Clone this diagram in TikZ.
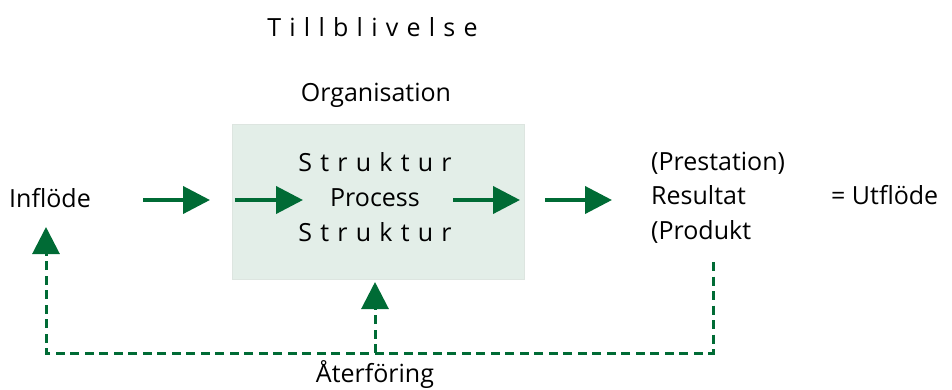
\documentclass[tikz,border=0pt]{standalone}
\usepackage{fontspec}
\setmainfont{Open Sans}
\usetikzlibrary{arrows.meta}
\definecolor{flowgreen}{HTML}{006B35}
\definecolor{boxfill}{HTML}{E3EEE8}
\definecolor{boxline}{HTML}{DDE5E0}
\newcommand{\spaced}[1]{\addfontfeature{LetterSpace=33}#1}
\tikzset{
  lbl/.style={inner sep=0pt, font=\fontsize{25}{30}\selectfont, text=black},
  flowarrow/.style={draw=flowgreen, line width=4pt,
    -{Triangle[length=27pt,width=27pt]}},
  feedback/.style={draw=flowgreen, line width=3pt, dash pattern=on 9pt off 5.5pt},
  feedarrow/.style={feedback, -{Triangle[length=27pt,width=27pt]}},
}
\begin{document}
\begin{tikzpicture}[x=1pt,y=-1pt]
\useasboundingbox (0,0) rectangle (952,389);

% process box
\node[fill=boxfill, draw=boxline, line width=1pt, minimum width=292pt,
  minimum height=155pt, inner sep=0pt] (box) at (378,201.5) {};

% titles
\node[lbl, anchor=base] (title) at (372.5,36) {\spaced{Tillblivelse}};
\node[lbl, anchor=base] (org) at (376,101) {Organisation};

% box contents
\node[lbl, anchor=base] (s1) at (375,171) {\spaced{Struktur}};
\node[lbl, anchor=base] (proc) at (375,206) {Process};
\node[lbl, anchor=base] (s2) at (375,241) {\spaced{Struktur}};

% input and output
\node[lbl, anchor=base west] (in) at (9,207) {Inflöde};
\node[lbl, anchor=base west] (prest) at (651,170) {(Prestation)};
\node[lbl, anchor=base west] (res) at (651,204.5) {Resultat};
\node[lbl, anchor=base west] (prod) at (651,239) {(Produkt};
\node[lbl, anchor=base west] (out) at (831,204) {= Utflöde};
\node[lbl, anchor=base] (fb) at (375,382) {Återföring};

% horizontal flow arrows
\coordinate (a1s) at (143,200);  \coordinate (a1e) at (210,200);
\coordinate (a2s) at (235,200);  \coordinate (a2e) at (303,200);
\coordinate (a3s) at (453,200);  \coordinate (a3e) at (520,200);
\coordinate (a4s) at (545,200);  \coordinate (a4e) at (612,200);
\draw[flowarrow] (a1s) -- (a1e);
\draw[flowarrow] (a2s) -- (a2e);
\draw[flowarrow] (a3s) -- (a3e);
\draw[flowarrow] (a4s) -- (a4e);

% feedback loop
\coordinate (fbstart) at (713,262);
\coordinate (fbright) at (713,353);
\coordinate (fbmid) at (375,353);
\coordinate (fbleft) at (46,353);
\coordinate (fbin) at (46,227);
\coordinate (fbbox) at (375,282);
\draw[feedarrow] (fbstart) -- (fbright) -- (fbleft) -- (fbin);
\draw[feedarrow] (fbmid) -- (fbbox);
\end{tikzpicture}
\end{document}
